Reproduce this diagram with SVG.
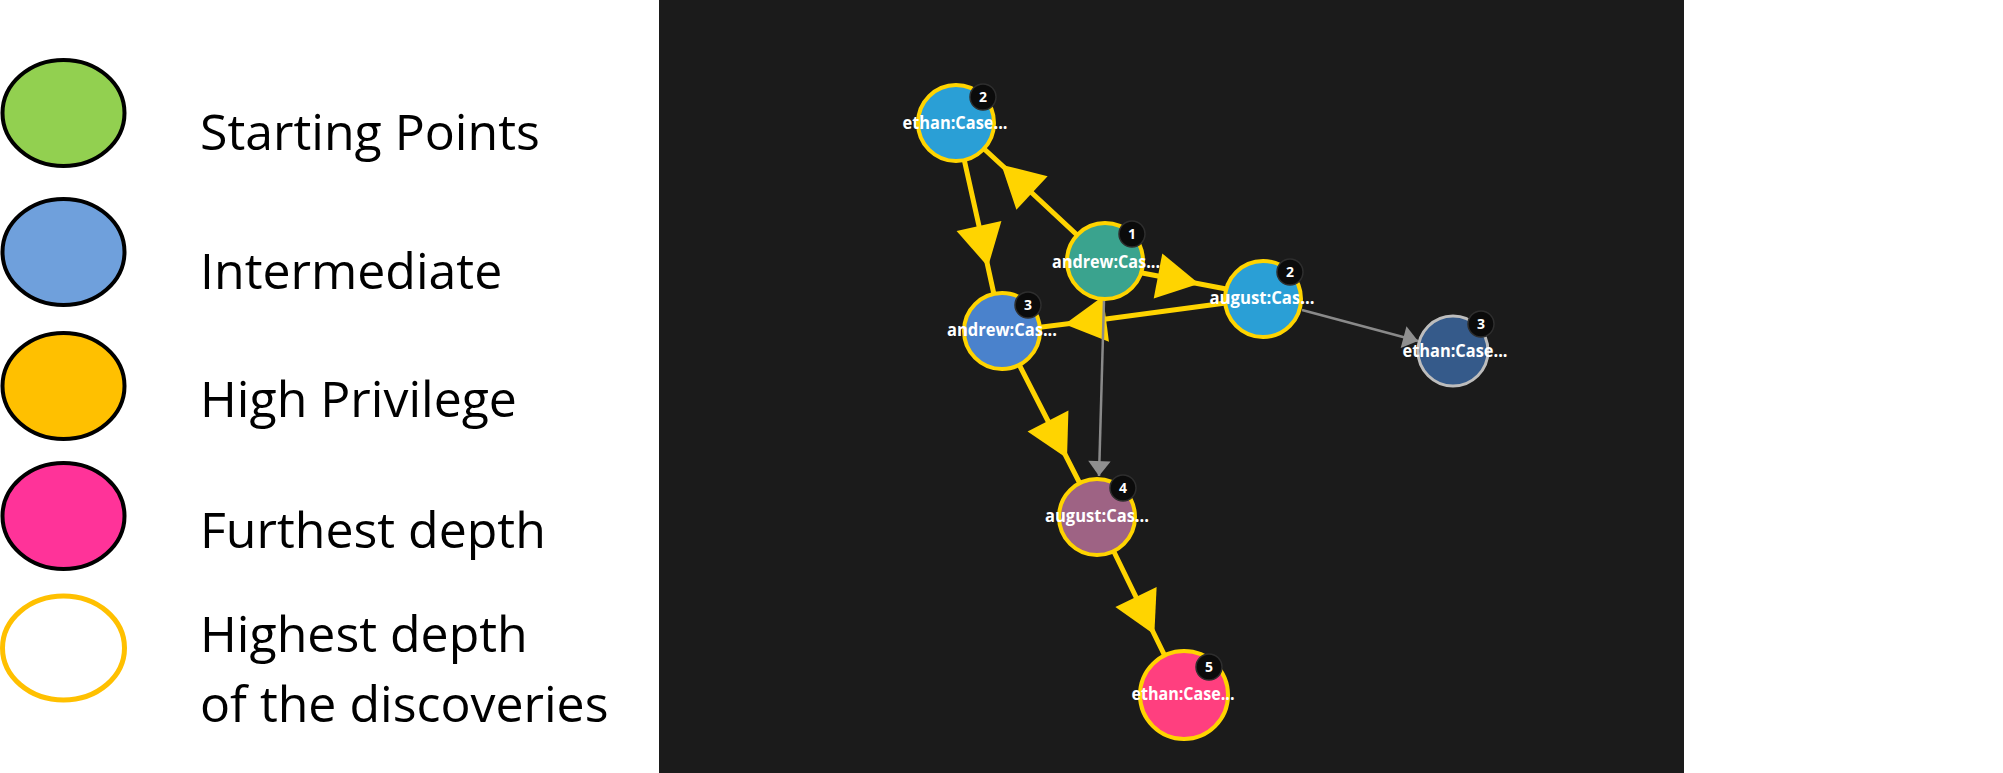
<svg xmlns="http://www.w3.org/2000/svg" width="2003" height="773" viewBox="0 0 2003 773">
<style>
.lg{font-family:"Open Sans","Noto Sans",sans-serif;font-size:50px;fill:#000}
.lgel{stroke:#000;stroke-width:4}
.node{stroke:#ffd400;stroke-width:4}
.lbl{font-family:"Open Sans","Liberation Sans",sans-serif;font-size:18px;font-weight:bold;fill:#fff;text-anchor:middle}
.badge{fill:#0b0b0b;stroke:#2e2e2e;stroke-width:1.5}
.bnum{font-family:"Open Sans","Liberation Sans",sans-serif;font-size:14px;font-weight:bold;fill:#fff;text-anchor:middle}
.ey{fill:none;stroke:#ffd400;stroke-width:5;marker-mid:url(#ah)}
.eg{fill:none;stroke:#8a8a8a;stroke-width:2.5;marker-end:url(#ag)}
</style>
<defs>
<marker id="ah" markerUnits="userSpaceOnUse" markerWidth="44" markerHeight="48" viewBox="0 -23 42 46" refX="0" refY="0" orient="auto" overflow="visible">
<path d="M0,-22 L40,0 L0,22 Z" fill="#ffd400"/>
</marker>
<marker id="ag" markerUnits="userSpaceOnUse" markerWidth="16" markerHeight="24" viewBox="0 -11 15 22" refX="14" refY="0" orient="auto" overflow="visible">
<path d="M0,-10.5 L14,0 L0,10.5 Z" fill="#8f8f8f"/>
</marker>
</defs>
<rect x="0" y="0" width="2003" height="773" fill="#ffffff"/>
<g id="legend">
<ellipse class="lgel" cx="63.5" cy="113" rx="61" ry="53" fill="#92d050"/>
<ellipse class="lgel" cx="63.5" cy="252" rx="61" ry="53" fill="#6fa0dc"/>
<ellipse class="lgel" cx="63.5" cy="386" rx="61" ry="53" fill="#ffc000"/>
<ellipse class="lgel" cx="63.5" cy="516" rx="61" ry="53" fill="#ff3399"/>
<ellipse cx="63.5" cy="648" rx="61" ry="52" fill="none" stroke="#ffc000" stroke-width="5"/>
<text class="lg" x="200" y="150">Starting Points</text>
<text class="lg" x="200" y="289">Intermediate</text>
<text class="lg" x="200" y="417">High Privilege</text>
<text class="lg" x="200" y="548">Furthest depth</text>
<text class="lg" x="200" y="652">Highest depth</text>
<text class="lg" x="200" y="722">of the discoveries</text>
</g>
<rect id="panel" x="659" y="0" width="1025" height="773" fill="#1b1b1b"/>
<g id="connectors">
<path class="ey" d="M956,123 L979,226 L1002,331"/>
<path class="ey" d="M1105,261 L1032,193 L956,123"/>
<path class="ey" d="M1105,266 L1158,276 L1263,296"/>
<path class="ey" d="M1263,298 L1106,319 L1002,332"/>
<path class="ey" d="M1002,331 L1048,421 L1097,517"/>
<path class="ey" d="M1097,517 L1136,597 L1184,695"/>
<path class="eg" d="M1104,300 L1099,476"/>
<path class="eg" d="M1302,310 L1418,341"/>
</g>
<g id="n-ethan-2">
<circle class="node" cx="956" cy="123" r="38" fill="#2a9fd6"/>
<text class="lbl" x="955" y="129" textLength="105" lengthAdjust="spacingAndGlyphs">ethan:Case...</text>
<circle class="badge" cx="983" cy="97" r="13"/>
<text class="bnum" x="983" y="102">2</text>
</g>
<g id="n-andrew-1">
<circle class="node" cx="1105" cy="261" r="38" fill="#3aa38e"/>
<text class="lbl" x="1106" y="268" textLength="108" lengthAdjust="spacingAndGlyphs">andrew:Cas...</text>
<circle class="badge" cx="1132" cy="234" r="13"/>
<text class="bnum" x="1132" y="239">1</text>
</g>
<g id="n-august-2">
<circle class="node" cx="1263" cy="299" r="38" fill="#2a9fd6"/>
<text class="lbl" x="1262" y="304" textLength="105" lengthAdjust="spacingAndGlyphs">august:Cas...</text>
<circle class="badge" cx="1290" cy="272" r="13"/>
<text class="bnum" x="1290" y="277">2</text>
</g>
<g id="n-andrew-3">
<circle class="node" cx="1002" cy="331" r="38" fill="#4a82cc"/>
<text class="lbl" x="1002" y="336" textLength="110" lengthAdjust="spacingAndGlyphs">andrew:Cas...</text>
<circle class="badge" cx="1028" cy="305" r="13"/>
<text class="bnum" x="1028" y="310">3</text>
</g>
<g id="n-ethan-3">
<circle cx="1453" cy="351" r="35" fill="#355a8a" stroke="#bdbdbd" stroke-width="3"/>
<text class="lbl" x="1455" y="357" textLength="105" lengthAdjust="spacingAndGlyphs">ethan:Case...</text>
<circle class="badge" cx="1481" cy="324" r="13"/>
<text class="bnum" x="1481" y="329">3</text>
</g>
<g id="n-august-4">
<circle class="node" cx="1097" cy="517" r="38" fill="#9e6384"/>
<text class="lbl" x="1097" y="522" textLength="104" lengthAdjust="spacingAndGlyphs">august:Cas...</text>
<circle class="badge" cx="1123" cy="488" r="13"/>
<text class="bnum" x="1123" y="493">4</text>
</g>
<g id="n-ethan-5">
<circle class="node" cx="1184" cy="695" r="44" fill="#ff3f7f"/>
<text class="lbl" x="1183" y="700" textLength="103" lengthAdjust="spacingAndGlyphs">ethan:Case...</text>
<circle class="badge" cx="1209" cy="667" r="13"/>
<text class="bnum" x="1209" y="672">5</text>
</g>
</svg>
